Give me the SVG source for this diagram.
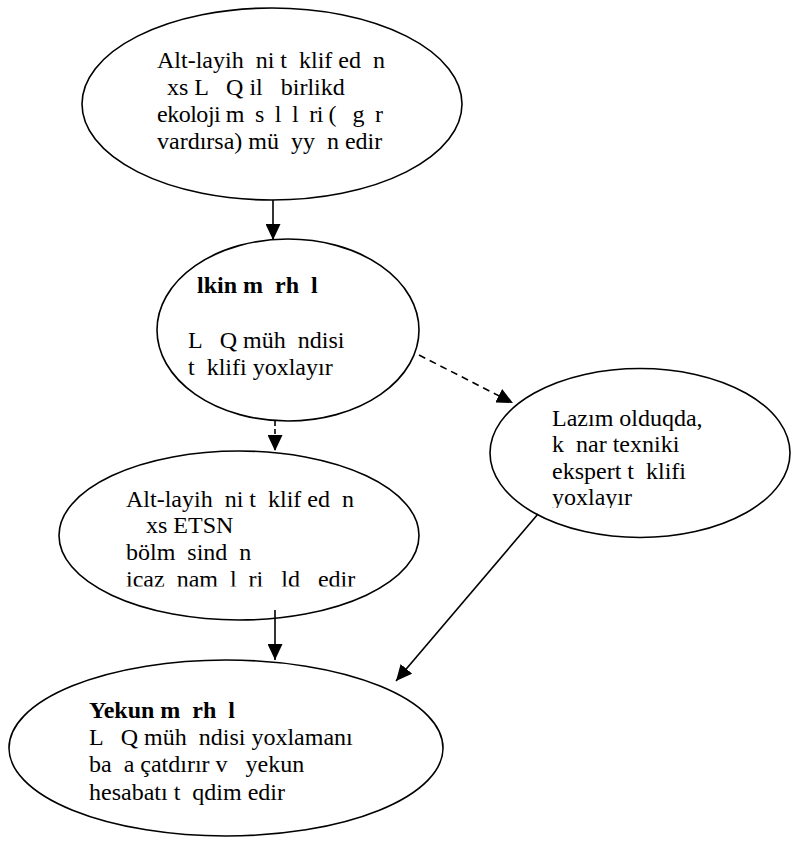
<svg xmlns="http://www.w3.org/2000/svg" width="794" height="842" viewBox="0 0 794 842">
  <style>
    .node ellipse { fill: #ffffff; stroke: #000000; stroke-width: 1.6; }
    .t text { font-family: "Liberation Serif", "Times New Roman", serif; font-size: 24px; fill: #000000; white-space: pre; }
    .t text.b { font-weight: bold; }
    .edge { stroke: #000000; stroke-width: 1.6; fill: none; }
    .dash { stroke-dasharray: 7 5; }
  </style>
  <defs>
    <marker id="arrow" markerUnits="userSpaceOnUse" markerWidth="16" markerHeight="15" refX="16" refY="7.5" orient="auto">
      <path d="M0,0 L16,7.5 L0,15 z" fill="#000000"/>
    </marker>
    <clipPath id="clip3"><rect x="0" y="440" width="794" height="146.5"/></clipPath>
    <clipPath id="clip5"><rect x="480" y="360" width="314" height="148"/></clipPath>
  </defs>
  <rect width="794" height="842" fill="#ffffff"/>

  <g id="node-1" class="node">
    <ellipse cx="272" cy="104" rx="190" ry="96"/>
    <g class="t">
      <text xml:space="preserve" x="157" y="68">Alt-layih  ni t  klif ed  n</text>
      <text xml:space="preserve" x="167" y="95">xs L   Q il   birlikd</text>
      <text xml:space="preserve" x="157" y="122" textLength="226" lengthAdjust="spacing">ekoloji m  s  l  l  ri (   g  r</text>
      <text xml:space="preserve" x="157" y="149">vardırsa) mü  yy  n edir</text>
    </g>
  </g>

  <g id="node-2" class="node">
    <ellipse cx="288" cy="330" rx="131" ry="91"/>
    <g class="t">
      <text xml:space="preserve" class="b" x="197" y="293">lkin m  rh  l</text>
      <text xml:space="preserve" x="188" y="348">L   Q müh  ndisi</text>
      <text xml:space="preserve" x="188" y="375">t  klifi yoxlayır</text>
    </g>
  </g>

  <g id="node-3" class="node">
    <ellipse cx="239" cy="535.5" rx="180" ry="84.5"/>
    <g class="t" clip-path="url(#clip3)">
      <text xml:space="preserve" x="126" y="507">Alt-layih  ni t  klif ed  n</text>
      <text xml:space="preserve" x="146" y="533">xs ETSN</text>
      <text xml:space="preserve" x="126" y="560">bölm  sind  n</text>
      <text xml:space="preserve" x="126" y="587">icaz  nam  l  ri   ld   edir</text>
    </g>
  </g>

  <g id="node-4" class="node">
    <ellipse cx="226" cy="748" rx="217" ry="88"/>
    <g class="t">
      <text xml:space="preserve" class="b" x="89" y="718">Yekun m  rh  l</text>
      <text xml:space="preserve" x="89" y="745">L   Q müh  ndisi yoxlamanı</text>
      <text xml:space="preserve" x="89" y="772">ba  a çatdırır v   yekun</text>
      <text xml:space="preserve" x="89" y="800">hesabatı t  qdim edir</text>
    </g>
  </g>

  <g id="node-5" class="node">
    <ellipse cx="640" cy="453" rx="150" ry="84.5"/>
    <g class="t" clip-path="url(#clip5)">
      <text xml:space="preserve" x="552" y="426">Lazım olduqda,</text>
      <text xml:space="preserve" x="552" y="452">k  nar texniki</text>
      <text xml:space="preserve" x="552" y="479">ekspert t  klifi</text>
      <text xml:space="preserve" x="552" y="505">yoxlayır</text>
    </g>
  </g>

  <g id="connectors">
    <line class="edge" x1="273" y1="200" x2="273" y2="240" marker-end="url(#arrow)"/>
    <line class="edge dash" x1="419" y1="355" x2="513" y2="403" marker-end="url(#arrow)"/>
    <line class="edge" x1="275" y1="421" x2="275" y2="451" stroke-dasharray="5 3" marker-end="url(#arrow)"/>
    <line class="edge" x1="275" y1="610" x2="275" y2="660" marker-end="url(#arrow)"/>
    <line class="edge" x1="538" y1="514" x2="396" y2="681" marker-end="url(#arrow)"/>
  </g>
</svg>
